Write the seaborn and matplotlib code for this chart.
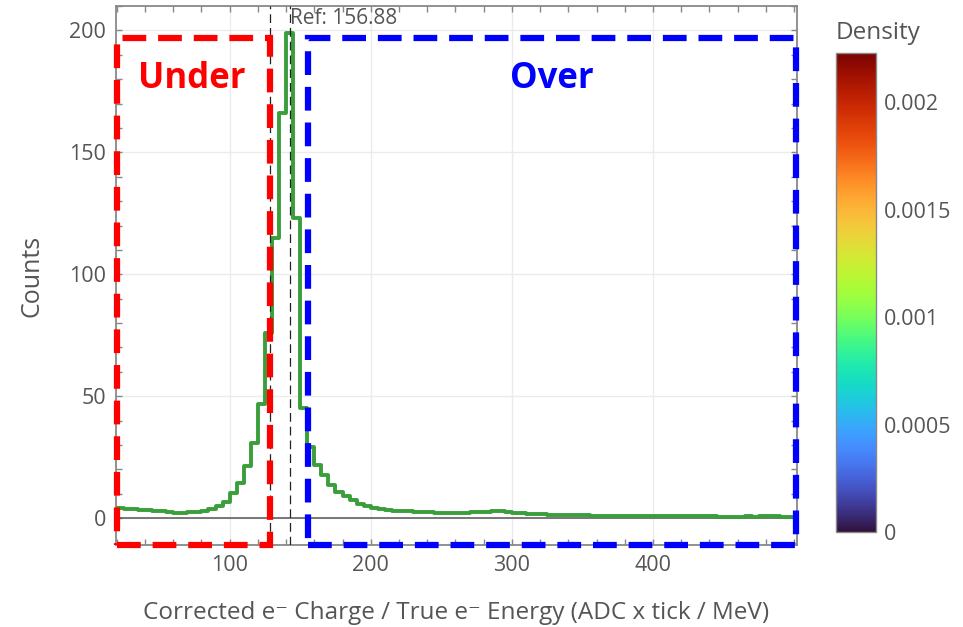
import numpy as np
import pandas as pd
import matplotlib
matplotlib.use("Agg")
import matplotlib.pyplot as plt
import seaborn as sns
from matplotlib.patches import Rectangle
from matplotlib.ticker import MultipleLocator
import matplotlib as mpl

# ---------------- data ----------------
bin_start = 20
bin_width = 5
counts = [
    4.0, 3.8, 3.6, 3.4, 3.2, 3.0, 2.8, 2.6, 2.3, 2.1, 2.5, 2.4, 2.9, 3.6, 4.8, 6.5,
    10.4, 14.5, 21.3, 30.7, 47, 76, 115, 166, 199, 123, 45, 29, 21.7, 17.6, 13.5, 10.8,
    9.0, 7.4, 6.0, 5.0,
    4.2, 3.6, 3.3, 3.1, 3.0, 2.8, 2.7, 2.6, 2.4, 2.2, 2.0, 2.0, 2.1, 2.2, 2.4, 2.6,
    2.7, 2.9, 2.8, 2.5,
    2.2, 2.0, 1.8, 1.7, 1.6, 1.5, 1.4, 1.3, 1.3, 1.2, 1.1, 1.0, 1.0, 1.0, 0.9, 0.9,
    0.8, 0.8, 0.8, 0.8,
    0.8, 0.8, 0.7, 0.8, 0.8, 0.7, 0.8, 0.7, 0.8, 0.6, 0.4, 0.5, 0.6, 0.7, 0.6, 0.7,
    0.8, 0.7, 0.6, 0.5,
]
edges = [bin_start + bin_width * i for i in range(len(counts) + 1)]
centers = [(edges[i] + edges[i + 1]) / 2 for i in range(len(counts))]

under_region = [20, 128.5]      # x range of "Under" box
over_region = [155.5, 501]      # x range of "Over" box
box_top = 197
ref_lines = [128.5, 142.5]
ref_label = "Ref: 156.88"
density_max = 0.00223
cbar_ticks = [0, 0.0005, 0.001, 0.0015, 0.002]
cbar_ticklabels = ["0", "0.0005", "0.001", "0.0015", "0.002"]

df = pd.DataFrame({"x": centers, "w": counts})

# ---------------- style ----------------
sns.set_style("white")
plt.rcParams["font.family"] = ["Open Sans", "DejaVu Sans"]
txt = "#555555"

fig = plt.figure(figsize=(9.63, 6.27), dpi=100)
ax = fig.add_axes([0.1205, 0.1308, 0.8276 - 0.1205, 0.9904 - 0.1308])

ax.grid(True, color="#ebebeb", lw=1)
ax.set_axisbelow(True)

ax.axhline(0, color="#555555", lw=1.1, zorder=1)

sns.histplot(data=df, x="x", weights="w", bins=edges, element="step", fill=False,
             color="#3a9e3a", lw=2.8, ax=ax, zorder=3)
ax.set_xlim(19.5, 502)
ax.set_ylim(-11, 210)
ax.set_xticks([100, 200, 300, 400])
ax.set_yticks([0, 50, 100, 150, 200])

for xv in ref_lines:
    ax.axvline(xv, color="#222222", lw=0.9, ls=(0, (7, 4)), zorder=4)

ax.text(ref_lines[1] + 0.5, 205, ref_label, color=txt, fontsize=15, ha="left", va="center")

dash = (0, (3.8, 1.9))
r1 = Rectangle((under_region[0], -11), under_region[1] - under_region[0], box_top + 11,
               fill=False, ec="#ff0000", lw=4.5, ls=dash, clip_on=False, zorder=5)
r2 = Rectangle((over_region[0], -11), over_region[1] - over_region[0], box_top + 11,
               fill=False, ec="#0000ff", lw=4.5, ls=dash, clip_on=False, zorder=5)
ax.add_patch(r1)
ax.add_patch(r2)

ax.text(73, 180, "Under", color="#ff0000", fontsize=25, fontweight="bold", ha="center", va="center")
ax.text(328, 180, "Over", color="#0000ff", fontsize=25, fontweight="bold", ha="center", va="center")

for s in ax.spines.values():
    s.set_color("#888888")
    s.set_linewidth(1.3)

ax.xaxis.set_minor_locator(MultipleLocator(20))
ax.yaxis.set_minor_locator(MultipleLocator(10))
ax.tick_params(axis="both", which="both", direction="in", color="#888888",
               top=True, bottom=True, left=True, right=True, length=4, width=1)
ax.tick_params(axis="both", which="major", labelsize=15.5, labelcolor=txt, pad=7)

ax.set_xlabel("Corrected e⁻ Charge / True e⁻ Energy (ADC x tick / MeV)", fontsize=17.5,
              color=txt, labelpad=18)
ax.set_ylabel("Counts", fontsize=18, color=txt, labelpad=18)

# ---------------- colorbar ----------------
cax = fig.add_axes([836 / 963, 0.1515, 40 / 963, 0.764])
norm = mpl.colors.Normalize(vmin=0, vmax=density_max)
cb = fig.colorbar(mpl.cm.ScalarMappable(norm=norm, cmap="turbo"), cax=cax)
cb.set_ticks(cbar_ticks)
cb.set_ticklabels(cbar_ticklabels)
cb.ax.tick_params(length=0, labelsize=15.5, labelcolor=txt, pad=6)
cb.outline.set_edgecolor("#888888")
cb.outline.set_linewidth(1)
fig.text(836 / 963, 1 - 33 / 627, "Density", fontsize=17.5, color=txt, ha="left", va="center")

fig.savefig("out.png", dpi=100, facecolor="white")
